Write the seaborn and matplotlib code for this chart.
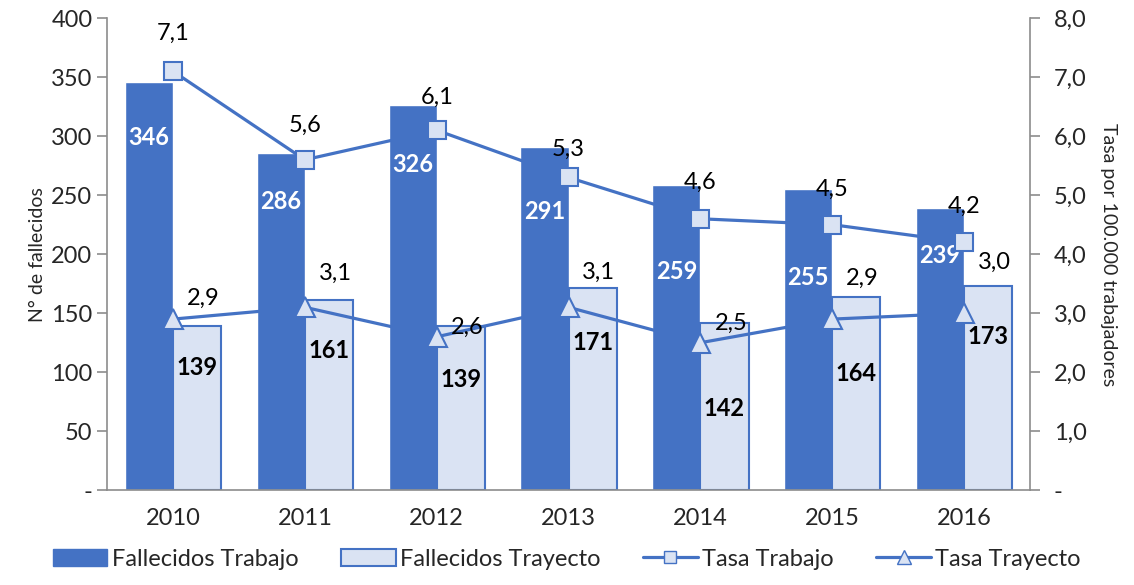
import numpy as np
import pandas as pd
import matplotlib
matplotlib.use("Agg")
import matplotlib.pyplot as plt
import seaborn as sns
from matplotlib.patches import Patch
from matplotlib.lines import Line2D

years = ["2010", "2011", "2012", "2013", "2014", "2015", "2016"]
fallecidos_trabajo = [346, 286, 326, 291, 259, 255, 239]
fallecidos_trayecto = [139, 161, 139, 171, 142, 164, 173]
tasa_trabajo = [7.1, 5.6, 6.1, 5.3, 4.6, 4.5, 4.2]
tasa_trayecto = [2.9, 3.1, 2.6, 3.1, 2.5, 2.9, 3.0]
left_ticks = [0, 50, 100, 150, 200, 250, 300, 350, 400]
right_ticks = [0, 1, 2, 3, 4, 5, 6, 7, 8]

# label placement (styling)
lab_trab_y = [299, 245, 276, 236, 185, 180, 199]
lab_tray_y = [104, 118, 94, 125, 69, 99, 130]
lab_tt_y = [7.75, 6.19, 6.66, 5.78, 5.22, 5.10, 4.81]
lab_ty_y = [3.25, 3.68, 2.76, 3.69, 2.83, 3.59, 3.86]

DARK = "#4472C4"
LIGHT = "#DAE3F3"
GREY = "#8C8C8C"

sns.set_theme(style="white")
plt.rcParams["font.family"] = ["Lato", "DejaVu Sans"]

fig = plt.figure(figsize=(11.34, 5.85), dpi=100)
ax = fig.add_axes([0.0944, 0.162, 0.814, 0.807])

df = pd.DataFrame({
    "year": years * 2,
    "value": fallecidos_trabajo + fallecidos_trayecto,
    "serie": ["Fallecidos Trabajo"] * 7 + ["Fallecidos Trayecto"] * 7,
})
sns.barplot(data=df, x="year", y="value", hue="serie",
            palette=[DARK, LIGHT], width=0.73, gap=0, ax=ax, legend=False,
            saturation=1)
for p in ax.patches[7:14]:
    p.set_edgecolor(DARK)
    p.set_linewidth(1.5)

ax.set_ylim(0, 400)
ax.set_xlim(-0.5, 6.5)
ax.set_yticks(left_ticks)
ax.set_yticklabels(["-" if v == 0 else str(v) for v in left_ticks], fontsize=17)
ax.set_ylabel("N° de fallecidos", fontsize=14)
ax.set_xlabel("")
ax.set_xticks(range(7))
ax.set_xticklabels(years, fontsize=17)
ax.tick_params(axis="x", which="major", length=0, pad=13)
ax.set_xticks(np.arange(-0.5, 7.0, 1.0), minor=True)
ax.tick_params(axis="x", which="minor", length=7, color=GREY, width=1.2, direction="out")
ax.tick_params(axis="y", length=7, color=GREY, width=1.2, direction="out", left=True)
for s in ["top", "right"]:
    ax.spines[s].set_visible(False)
for s in ["left", "bottom"]:
    ax.spines[s].set_color(GREY)
    ax.spines[s].set_linewidth(1.2)

off = 0.73 / 4
for i in range(7):
    ax.text(i - off, lab_trab_y[i], str(fallecidos_trabajo[i]), color="white",
            fontsize=17, fontweight="bold", ha="center", va="center")
    ax.text(i + off, lab_tray_y[i], str(fallecidos_trayecto[i]), color="black",
            fontsize=17, fontweight="bold", ha="center", va="center")

ax2 = ax.twinx()
x = np.arange(7)
sns.lineplot(x=x, y=tasa_trabajo, ax=ax2, color=DARK, lw=2.3, marker="s",
             markersize=13, markerfacecolor=LIGHT, markeredgecolor=DARK,
             markeredgewidth=1.5)
sns.lineplot(x=x, y=tasa_trayecto, ax=ax2, color=DARK, lw=2.3, marker="^",
             markersize=14, markerfacecolor=LIGHT, markeredgecolor=DARK,
             markeredgewidth=1.5)
ax2.set_ylim(0, 8)
ax2.set_xlim(-0.5, 6.5)
ax2.set_yticks(right_ticks)
ax2.set_yticklabels(["-" if v == 0 else f"{v:.1f}".replace(".", ",") for v in right_ticks],
                    fontsize=17)
ax2.tick_params(axis="y", length=7, color=GREY, width=1.2, direction="out", right=True, pad=10)
ax2.set_ylabel("Tasa por 100.000 trabajadores", fontsize=14, rotation=270, labelpad=22)
for s in ["top", "left", "bottom"]:
    ax2.spines[s].set_visible(False)
ax2.spines["right"].set_color(GREY)
ax2.spines["right"].set_linewidth(1.2)

for i in range(7):
    ax2.text(i, lab_tt_y[i], f"{tasa_trabajo[i]:.1f}".replace(".", ","),
             fontsize=17, ha="center", va="center", color="black")
    ax2.text(i + 0.23, lab_ty_y[i], f"{tasa_trayecto[i]:.1f}".replace(".", ","),
             fontsize=17, ha="center", va="center", color="black")

handles = [
    Patch(facecolor=DARK, edgecolor=DARK),
    Patch(facecolor=LIGHT, edgecolor=DARK, linewidth=1.5),
    Line2D([0], [0], color=DARK, lw=2.3, marker="s", markersize=9,
           markerfacecolor=LIGHT, markeredgecolor=DARK),
    Line2D([0], [0], color=DARK, lw=2.3, marker="^", markersize=10,
           markerfacecolor=LIGHT, markeredgecolor=DARK),
]
labels = ["Fallecidos Trabajo", "Fallecidos Trayecto", "Tasa Trabajo", "Tasa Trayecto"]
fig.legend(handles, labels, loc="lower center", ncol=4, frameon=False,
           fontsize=17, bbox_to_anchor=(0.5, -0.01), handlelength=2.3,
           handletextpad=0.2, columnspacing=1.8)

fig.savefig("out.png", dpi=100)
